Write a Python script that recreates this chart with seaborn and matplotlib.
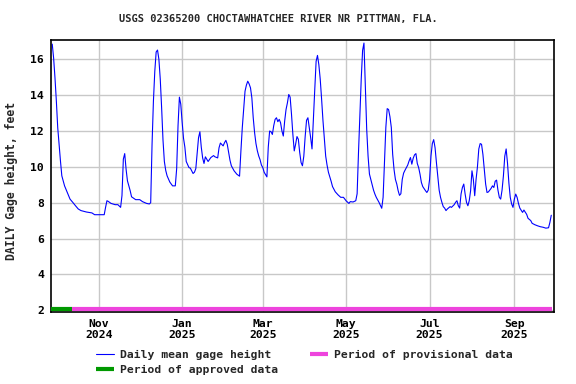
import matplotlib
matplotlib.use("Agg")
import matplotlib.pyplot as plt
import seaborn as sns
import pandas as pd

# ---- data ----
start_date = "2024-10-01"
day_offset = [-3, -2, -1, 0, 1, 2, 3, 4, 6, 8, 10, 12, 14, 16, 18, 22, 26, 28, 35, 36, 37, 38, 40, 43, 45, 47, 48,
              49, 50, 51, 52, 54, 55, 58, 61, 63, 66, 68, 69, 70, 71, 72, 73, 74, 75, 76, 77, 78, 79, 80, 81, 83, 85,
              87, 88, 89, 90, 91, 92, 93, 94, 95, 97, 98, 100, 101, 102, 103, 104, 105, 106, 107, 108, 109, 111, 113,
              115, 116, 118, 119, 120, 121, 122, 123, 124, 125, 126, 127, 128, 130, 132, 134, 135, 136, 137, 138, 139,
              140, 141, 142, 143, 144, 145, 146, 147, 148, 149, 150, 151, 152, 154, 155, 156, 157, 158, 159, 160, 161,
              162, 163, 164, 165, 166, 167, 168, 169, 170, 171, 172, 173, 174, 175, 176, 177, 178, 179, 180, 181, 182,
              183, 184, 185, 186, 187, 188, 189, 190, 191, 192, 193, 194, 195, 196, 197, 198, 199, 201, 202, 204, 206,
              208, 210, 212, 214, 215, 217, 219, 220, 221, 222, 223, 224, 225, 226, 227, 228, 229, 231, 232, 233, 234,
              236, 237, 238, 239, 240, 241, 242, 243, 244, 245, 246, 247, 248, 249, 250, 251, 252, 253, 254, 255, 257,
              258, 259, 260, 261, 262, 263, 264, 265, 266, 267, 268, 270, 271, 272, 273, 274, 275, 276, 277, 278, 279,
              280, 281, 282, 283, 284, 285, 286, 288, 289, 291, 292, 293, 294, 295, 296, 297, 298, 299, 300, 301, 302,
              303, 304, 305, 306, 307, 308, 309, 310, 311, 312, 313, 314, 315, 316, 318, 319, 320, 321, 322, 323, 324,
              325, 326, 327, 328, 329, 330, 331, 332, 333, 334, 335, 336, 337, 338, 339, 341, 342, 344, 345, 347, 348,
              350, 352, 354, 356, 358, 360, 361, 362]
gage_height = [16.85, 16.07, 14.96, 13.67, 12.19, 11.26, 10.33, 9.5, 8.94, 8.57, 8.2, 8.02, 7.83, 7.65, 7.56, 7.48, 7.43,
               7.33, 7.33, 7.74, 8.11, 8.07, 7.96, 7.89, 7.89, 7.74, 8.4,
               10.43, 10.74, 9.87, 9.22, 8.67, 8.33, 8.17, 8.17, 8.06, 7.96, 7.93, 8.0, 11.26, 13.67, 15.33, 16.41,
               16.52, 16.0, 14.9, 13.3, 11.5, 10.3, 9.8, 9.5, 9.15, 8.94,
               8.94, 9.9, 12.3, 13.89, 13.5, 12.5, 11.6, 11.1, 10.3, 9.96, 9.93, 9.63, 9.7, 9.9, 10.8, 11.63, 11.96,
               11.1, 10.5, 10.19, 10.56, 10.3, 10.52,
               10.63, 10.56, 10.5, 11.07, 11.33, 11.25, 11.17, 11.35, 11.48, 11.26, 10.8, 10.37, 10.06, 9.78, 9.59,
               9.48, 10.9, 12.19, 13.2, 14.22, 14.56,
               14.78, 14.63, 14.41, 13.85, 12.74, 11.91, 11.3, 10.9, 10.61, 10.4, 10.1, 9.96, 9.7, 9.44, 11.1, 12.0,
               11.96, 11.81, 12.3, 12.65, 12.74,
               12.52, 12.65, 12.46, 12.0, 11.72, 12.56, 13.2, 13.57, 14.04, 13.89, 12.93, 11.81, 10.89, 11.26, 11.69,
               11.54, 10.8, 10.24, 10.06, 10.6, 11.7,
               12.6, 12.74, 12.19, 11.63, 11.0, 12.7, 14.3, 15.89, 16.22, 15.7, 14.9, 13.8, 12.6, 11.6, 10.6, 10.1,
               9.7, 9.19, 8.9, 8.61, 8.44,
               8.3, 8.3, 8.1, 7.96, 8.06, 8.04, 8.11, 8.5, 10.8, 12.9, 14.9, 16.5, 16.91, 14.5, 12.1, 10.6, 9.6, 9.0,
               8.7, 8.48, 8.3,
               8.02, 7.85, 7.69, 8.3, 10.3, 12.2, 13.25, 13.2, 12.8, 12.2, 10.7, 9.85, 9.3, 9.04, 8.67, 8.41, 8.5, 9.3,
               9.65, 9.81, 10.1,
               10.33, 10.52, 10.15, 10.48, 10.67, 10.74, 10.19, 9.96, 9.59, 9.13, 8.9, 8.67, 8.57, 8.7, 9.3, 10.6,
               11.3, 11.52, 11.07, 10.24, 9.5,
               8.7, 8.3, 8.02, 7.78, 7.7, 7.56, 7.65, 7.78, 7.74, 7.89, 8.02, 8.11, 7.83, 7.7, 8.48, 8.85, 9.04, 8.48,
               8.02, 7.83, 8.11,
               8.67, 9.78, 9.3, 8.39, 9.3, 10.0, 11.0, 11.3, 11.26, 10.7, 9.9, 9.04, 8.57, 8.6, 8.8, 8.94, 8.85, 9.2,
               9.26, 8.7, 8.3,
               8.2, 8.7, 9.5, 10.6, 11.0, 10.2, 9.1, 8.3, 7.93, 7.74, 8.2, 8.48, 8.3, 7.96, 7.7, 7.46, 7.59, 7.35,
               7.13, 7.0, 6.85,
               6.77, 6.71, 6.66, 6.63, 6.58, 6.6, 6.9, 7.3]

approved_period = ["2024-09-27 00:00", "2024-10-12 12:00"]
provisional_period = ["2024-10-12 12:00", "2025-09-28 08:00"]
x_limits = ["2024-09-27 02:00", "2025-09-30 00:00"]
y_ticks = [2, 4, 6, 8, 10, 12, 14, 16]
x_tick_dates = ["2024-11-01", "2025-01-01", "2025-03-01", "2025-05-01", "2025-07-01", "2025-09-01"]
x_tick_labels = ["Nov\n2024", "Jan\n2025", "Mar\n2025", "May\n2025", "Jul\n2025", "Sep\n2025"]
title = "USGS 02365200 CHOCTAWHATCHEE RIVER NR PITTMAN, FLA."
y_label = "DAILY Gage height, feet"
bar_level = 2.05

df = pd.DataFrame({
    "date": pd.to_datetime(start_date) + pd.to_timedelta(day_offset, unit="D"),
    "height": gage_height,
})

sns.set_theme(style="white")
plt.rcParams["font.family"] = ["DejaVu Sans Mono", "DejaVu Sans"]
plt.rcParams["font.weight"] = "bold"

fig = plt.figure(figsize=(5.76, 3.84), dpi=100)
ax = fig.add_axes([51 / 576, 1 - 312 / 384, (554 - 51) / 576, (312 - 40) / 384])

ax.grid(True, color="#c8c8c8", linewidth=1.0)
ax.set_axisbelow(True)

sns.lineplot(data=df, x="date", y="height", ax=ax, color="#0000ff", linewidth=0.8,
             label="Daily mean gage height", estimator=None, sort=True)
ax.plot(pd.to_datetime(provisional_period), [bar_level, bar_level],
        color="#ee44dd", linewidth=3.0, solid_capstyle="butt", label="Period of provisional data", zorder=3)
ax.plot(pd.to_datetime(approved_period), [bar_level, bar_level],
        color="#009900", linewidth=3.0, solid_capstyle="butt", label="Period of approved data", zorder=4)

ax.set_xlim(pd.to_datetime(x_limits[0]), pd.to_datetime(x_limits[1]))
ax.set_ylim(1.9, 17.08)
ax.set_yticks(y_ticks)
ax.set_yticklabels([str(t) for t in y_ticks], fontsize=8.2, fontweight="bold")
ax.set_xticks(pd.to_datetime(x_tick_dates))
ax.set_xticklabels(x_tick_labels, fontsize=8.2, fontweight="bold", linespacing=1.1)
ax.tick_params(axis="both", length=0, pad=5, colors="black")
ax.set_xlabel("")
ax.set_ylabel("")
for s in ax.spines.values():
    s.set_color("black")
    s.set_linewidth(1.2)

fig.text(278 / 576, 1 - 19 / 384, title, ha="center", va="center", fontsize=7.5, fontweight="bold")
fig.text(11.5 / 576, 1 - 181 / 384, y_label, ha="center", va="center", rotation=90, fontsize=8.3,
         fontweight="bold")

h, l = ax.get_legend_handles_labels()
order = [l.index("Daily mean gage height"), l.index("Period of approved data"), l.index("Period of provisional data")]
leg = ax.legend([h[i] for i in order], [l[i] for i in order], ncol=2, frameon=False,
                loc="upper left", bbox_to_anchor=(96 / 576, 1 - 350 / 384), bbox_transform=fig.transFigure,
                fontsize=8.2, handlelength=1.55, handletextpad=0.55, columnspacing=2.8, labelspacing=0.45,
                borderpad=0, borderaxespad=0)
for t in leg.get_texts():
    t.set_fontweight("bold")

fig.savefig("out.png", dpi=100, facecolor="white")
